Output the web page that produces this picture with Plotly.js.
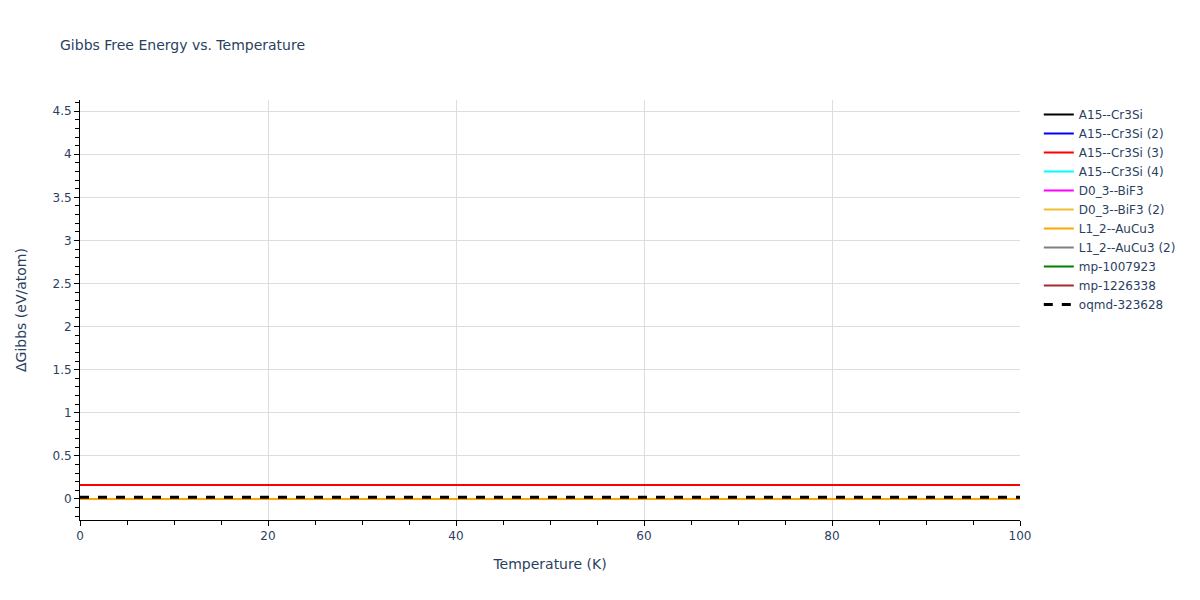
<!DOCTYPE html>
<html>
<head>
<meta charset="utf-8">
<script src="https://cdn.plot.ly/plotly-3.0.1.min.js"></script>
<style>body{margin:0;} #chart{width:1200px;height:600px;}</style>
</head>
<body>
<div id="chart"></div>
<script>
  // temperatures (K)
  var temps = [0, 10, 20, 30, 40, 50, 60, 70, 80, 90, 100];

  // ΔGibbs (eV/atom) per phase
  var a15 = [0, 0, 0, 0, 0, 0, 0, 0, 0, 0, 0];
  var a15_2 = [0, 0, 0, 0, 0, 0, 0, 0, 0, 0, 0];
  var a15_3 = [0.161, 0.161, 0.161, 0.161, 0.161, 0.161, 0.161, 0.161, 0.161, 0.160, 0.160];
  var a15_4 = [0, 0, 0, 0, 0, 0, 0, 0, 0, 0, 0];
  var d03 = [0, 0, 0, 0, 0, 0, 0, 0, 0, 0, 0];
  var d03_2 = [0, 0, 0, 0, 0, 0, 0, 0, 0, 0, 0];
  var l12 = [0, 0, 0, 0, 0, 0, 0, 0, 0, 0, 0];
  var l12_2 = [0, 0, 0, 0, 0, 0, 0, 0, 0, 0, 0];
  var mp1007923 = [0, 0, 0, 0, 0, 0, 0, 0, 0, 0, 0];
  var mp1226338 = [0, 0, 0, 0, 0, 0, 0, 0, 0, 0, 0];
  var oqmd = [0.018, 0.018, 0.018, 0.018, 0.018, 0.018, 0.018, 0.018, 0.018, 0.018, 0.018];

  function line(name, y, color, rank, dash, width) {
    return {
      x: temps,
      y: y,
      name: name,
      type: 'scatter',
      mode: 'lines',
      legendrank: rank,
      line: { color: color, width: width || 2, dash: dash || 'solid' },
    };
  }

  // drawn in this order so the orange line sits on top, legend keeps its own order
  var data = [
    line('A15--Cr3Si', a15, 'black', 1),
    line('A15--Cr3Si (2)', a15_2, 'blue', 2),
    line('A15--Cr3Si (4)', a15_4, 'cyan', 4),
    line('D0_3--BiF3', d03, 'magenta', 5),
    line('D0_3--BiF3 (2)', d03_2, '#f0c030', 6),
    line('L1_2--AuCu3 (2)', l12_2, 'gray', 8),
    line('mp-1007923', mp1007923, 'green', 9),
    line('mp-1226338', mp1226338, 'brown', 10),
    line('L1_2--AuCu3', l12, 'orange', 7),
    line('A15--Cr3Si (3)', a15_3, 'red', 3),
    line('oqmd-323628', oqmd, 'black', 11, 'dash', 3),
  ];

  var layout = {
    width: 1200,
    height: 600,
    margin: { l: 80, r: 180, t: 100, b: 80 },
    paper_bgcolor: 'white',
    plot_bgcolor: 'white',
    font: { family: 'Verdana, "DejaVu Sans", sans-serif', color: '#2a3f5f', size: 12 },
    title: { text: 'Gibbs Free Energy vs. Temperature', x: 0.05, font: { size: 14 } },
    xaxis: {
      title: { text: 'Temperature (K)', font: { size: 14 }, standoff: 16 },
      range: [0, 100],
      showline: true,
      linecolor: 'black',
      gridcolor: '#dddddd',
      zeroline: false,
      ticks: 'outside',
      tickcolor: 'black',
      dtick: 20,
      minor: { dtick: 5, ticks: 'outside', tickcolor: 'black', ticklen: 4, showgrid: false },
    },
    yaxis: {
      title: { text: 'ΔGibbs (eV/atom)', font: { size: 14 }, standoff: 22 },
      range: [-0.245, 4.63],
      showline: true,
      linecolor: 'black',
      gridcolor: '#dddddd',
      zeroline: false,
      ticks: 'outside',
      tickcolor: 'black',
      dtick: 0.5,
      minor: { dtick: 0.1, ticks: 'outside', tickcolor: 'black', ticklen: 4, showgrid: false },
    },
    legend: { x: 1.02, y: 1, font: { size: 12 } },
  };

  Plotly.newPlot('chart', data, layout, { displayModeBar: false });
</script>
</body>
</html>
